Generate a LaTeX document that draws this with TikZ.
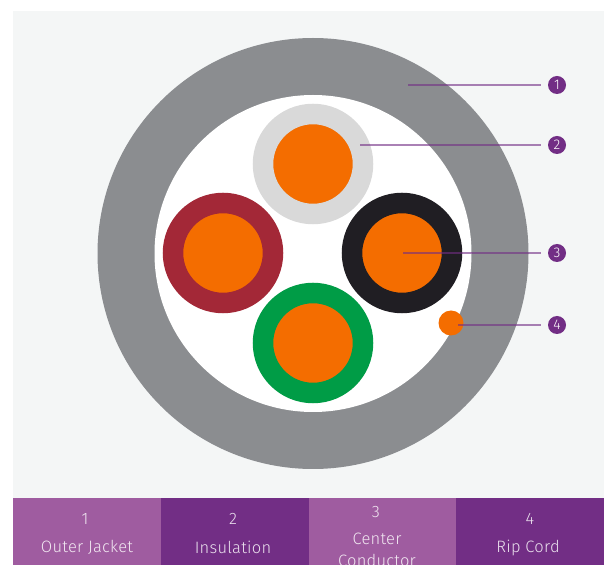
\documentclass[tikz,border=0pt]{standalone}
\usepackage{xcolor}
\usepackage{fontspec}
\setmainfont{Fira Sans Light}
\newfontfamily\legendfont[LetterSpace=1.5]{Fira Sans Light}
\definecolor{panelbg}{HTML}{F4F6F6}
\definecolor{jacket}{HTML}{8B8D90}
\definecolor{copper}{HTML}{F46D00}
\definecolor{deeppurple}{HTML}{722E85}
\definecolor{softpurple}{HTML}{9F5CA0}
\definecolor{greywire}{HTML}{D9D9D9}
\definecolor{redwire}{HTML}{A32837}
\definecolor{blackwire}{HTML}{201E23}
\definecolor{greenwire}{HTML}{009C46}
\tikzset{
    wire/.style={draw=#1, line width=20.5pt, fill=copper, circle, inner sep=0pt, minimum size=100pt},
    badge/.style={circle, fill=deeppurple, text=white, inner sep=0pt, minimum size=18pt, font=\fontsize{14}{14}\selectfont},
    leader/.style={draw=deeppurple, opacity=0.6, line width=1.1pt},
    cell/.style={rectangle, fill=#1, inner sep=0pt, minimum width=148pt, minimum height=67pt},
    celltext/.style={text=white, opacity=0.85, font=\legendfont\fontsize{16.5}{16.5}\selectfont, inner sep=0pt}
}
\begin{document}
\begin{tikzpicture}[x=1pt, y=1pt]
    \useasboundingbox (0, 0) rectangle (613, 565);

    % Background
    \fill[white] (0, 0) rectangle (613, 565);
    \fill[panelbg] (13, 67) rectangle (604, 554);

    % Cable
    \node[circle, fill=jacket, inner sep=0pt, minimum size=431pt] (jacket) at (313, 311.5) {};
    \node[circle, fill=white, inner sep=0pt, minimum size=317pt] (core) at (313, 311.5) {};

    % Conductors
    \node[wire=greywire] (wiregrey) at (313, 401) {};
    \node[wire=redwire] (wirered) at (223, 312) {};
    \node[wire=blackwire] (wireblack) at (402, 312) {};
    \node[wire=greenwire] (wiregreen) at (313, 222) {};
    \node[circle, fill=copper, inner sep=0pt, minimum size=25pt] (ripcord) at (451, 242) {};

    % Leaders
    \coordinate (startone) at (408, 480);
    \coordinate (starttwo) at (360, 420);
    \coordinate (startthree) at (403, 312);
    \coordinate (startfour) at (458, 240);
    \node[badge] (one) at (557, 480) {1};
    \node[badge] (two) at (557, 420) {2};
    \node[badge] (three) at (557, 312) {3};
    \node[badge] (four) at (557, 240) {4};
    \coordinate (endone) at (541, 480);
    \coordinate (endtwo) at (541, 420);
    \coordinate (endthree) at (541, 312);
    \coordinate (endfour) at (541, 240);
    \draw[leader] (startone) -- (endone);
    \draw[leader] (starttwo) -- (endtwo);
    \draw[leader] (startthree) -- (endthree);
    \draw[leader] (startfour) -- (endfour);

    % Legend
    \node[cell=softpurple] (cellone) at (87, 33.5) {};
    \node[cell=deeppurple] (celltwo) at (234.5, 33.5) {};
    \node[cell=softpurple] (cellthree) at (382.5, 33.5) {};
    \node[cell=deeppurple] (cellfour) at (530, 33.5) {};

    \node[celltext] (numone) at (85, 46) {1};
    \node[celltext] (nameone) at (87, 17.5) {Outer Jacket};
    \node[celltext] (numtwo) at (233, 46) {2};
    \node[celltext] (nametwo) at (233, 17.5) {Insulation};
    \node[celltext] (numthree) at (376, 53) {3};
    \node[celltext] (namethree) at (377, 26) {Center};
    \node[celltext] (namethreeb) at (377, 5) {Conductor};
    \node[celltext] (numfour) at (530, 46) {4};
    \node[celltext] (namefour) at (528, 17.5) {Rip Cord};
\end{tikzpicture}
\end{document}
